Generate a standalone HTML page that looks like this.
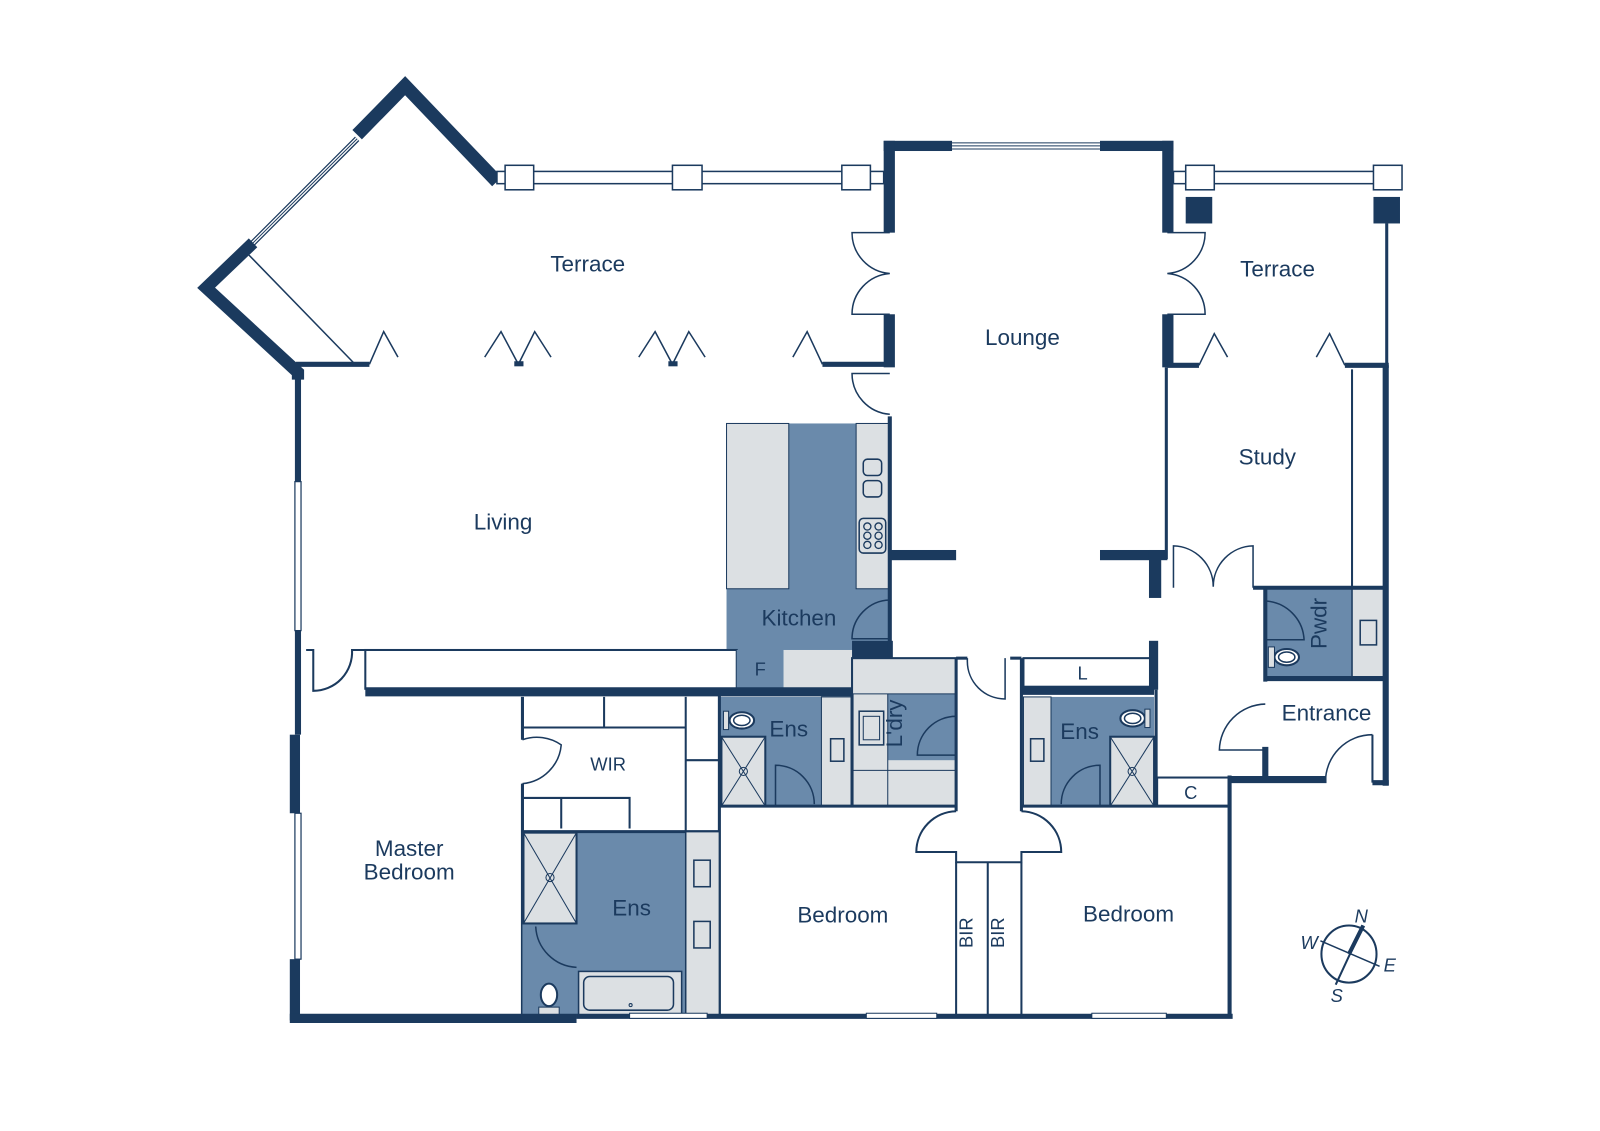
<!DOCTYPE html>
<html><head><meta charset="utf-8"><style>
html,body{margin:0;padding:0;background:#fff}
svg{display:block}
text{font-family:"Liberation Sans",sans-serif;fill:#1b3a5e}
</style></head><body>
<svg width="1600" height="1131" viewBox="0 0 1568 1108.4" xmlns="http://www.w3.org/2000/svg">
<defs>
<g id="wc"><ellipse cx="0" cy="0" rx="12" ry="8" fill="#fff" stroke="#1b3a5e" stroke-width="2"/><ellipse cx="0" cy="0" rx="8" ry="5" fill="none" stroke="#1b3a5e" stroke-width="1.5"/></g>
</defs>
<g fill="none" stroke="#1b3a5e" stroke-linecap="butt">
<rect x="712" y="415" width="160" height="222" fill="#6a8aab" stroke="none"/>
<rect x="712" y="415" width="61" height="162" fill="#dce0e3" stroke="#1b3a5e" stroke-width="1"/>
<rect x="839" y="415" width="33" height="162" fill="#dce0e3" stroke="#1b3a5e" stroke-width="1"/>
<rect x="846" y="450" width="18" height="16" rx="4" stroke-width="1.5"/>
<rect x="846" y="471" width="18" height="16" rx="4" stroke-width="1.5"/>
<rect x="842" y="508" width="26" height="34" rx="4" stroke-width="1.5"/>
<circle cx="850" cy="516" r="3.5" stroke-width="1.3"/><circle cx="861" cy="516" r="3.5" stroke-width="1.3"/>
<circle cx="850" cy="525" r="3.5" stroke-width="1.3"/><circle cx="861" cy="525" r="3.5" stroke-width="1.3"/>
<circle cx="850" cy="534" r="3.5" stroke-width="1.3"/><circle cx="861" cy="534" r="3.5" stroke-width="1.3"/>
<path d="M872 588 A38 38 0 0 0 835 626 L872 626" stroke-width="1.5"/>
<rect x="358" y="637" width="364" height="38" fill="#fff" stroke-width="2"/>
<rect x="722" y="637" width="46" height="38" fill="#6a8aab" stroke="none"/>
<rect x="768" y="637" width="67" height="38" fill="#dce0e3" stroke="none"/>
<rect x="835" y="628" width="40" height="17" fill="#1b3a5e" stroke="none"/>
<line x1="358" y1="678" x2="838" y2="678" stroke-width="9"/>
<path d="M300 637 L307 637 L307 677 A38 38 0 0 0 345 637 L358 637" stroke-width="2"/>
<rect x="705" y="683" width="130" height="107" fill="#6a8aab" stroke="none"/>
<rect x="707" y="722" width="43" height="68" fill="#dce0e3" stroke-width="2"/>
<path d="M707 722 L750 790 M750 722 L707 790" stroke-width="1"/>
<circle cx="728.5" cy="756" r="4" stroke-width="1"/>
<rect x="805" y="683" width="30" height="107" fill="#dce0e3" stroke-width="1"/>
<rect x="814" y="724" width="13" height="22" stroke-width="1.5"/>
<use href="#wc" x="727" y="706"/><rect x="709" y="697" width="5" height="18" fill="#dce0e3" stroke-width="1"/>
<path d="M760 790 L760 750 A38 38 0 0 1 798 788" stroke-width="1.5"/>
<rect x="835" y="645" width="102" height="145" fill="#dce0e3" stroke-width="2"/>
<rect x="870" y="680" width="67" height="65" fill="#6a8aab" stroke="none"/>
<path d="M835 680 L937 680 M870 680 L870 790 M835 755 L937 755" stroke-width="1"/>
<rect x="842" y="697" width="24" height="33" fill="#dce0e3" stroke-width="1.5"/><rect x="846" y="702" width="16" height="23" stroke-width="1"/>
<path d="M937 702 A38 38 0 0 0 899 740 L937 740" stroke-width="1.5"/>
<rect x="1003" y="683" width="128" height="107" fill="#6a8aab" stroke="none"/>
<rect x="1003" y="683" width="27" height="107" fill="#dce0e3" stroke-width="1"/>
<rect x="1010" y="724" width="13" height="22" stroke-width="1.5"/>
<rect x="1088" y="722" width="43" height="68" fill="#dce0e3" stroke-width="2"/>
<path d="M1088 722 L1131 790 M1131 722 L1088 790" stroke-width="1"/>
<circle cx="1109.5" cy="756" r="4" stroke-width="1"/>
<use href="#wc" x="1110" y="704"/><rect x="1122" y="695" width="5" height="18" fill="#dce0e3" stroke-width="1"/>
<path d="M1078 790 L1078 750 A38 38 0 0 0 1040 788" stroke-width="1.5"/>
<rect x="1003" y="645" width="125" height="28" fill="#fff" stroke-width="2"/>
<line x1="1001" y1="677" x2="1131" y2="677" stroke-width="8"/>
<rect x="1134" y="762" width="70" height="28" stroke-width="2"/>
<rect x="1240" y="577" width="85" height="88" fill="#6a8aab" stroke="none"/>
<rect x="1325" y="577" width="33" height="88" fill="#dce0e3" stroke-width="1.5"/>
<rect x="1333" y="608" width="16" height="24" stroke-width="1.5"/>
<path d="M1240 589 A40 40 0 0 1 1278 627 L1240 627" stroke-width="1.5"/>
<use href="#wc" x="1261" y="644"/><rect x="1243" y="634" width="6" height="20" fill="#dce0e3" stroke-width="1"/>
<line x1="1228" y1="576" x2="1358" y2="576" stroke-width="4"/>
<line x1="1240" y1="665" x2="1358" y2="665" stroke-width="5"/>
<line x1="1240" y1="576" x2="1240" y2="668" stroke-width="4"/>
<path d="M1240 690 A46 46 0 0 0 1195 735 L1240 735" stroke-width="1.5"/>
<line x1="1240" y1="732" x2="1240" y2="767" stroke-width="6"/>
<path d="M1345 720 A46 46 0 0 0 1299 767" stroke-width="1.5"/>
<line x1="1345" y1="720" x2="1345" y2="767" stroke-width="2"/>
<line x1="1205" y1="764" x2="1300" y2="764" stroke-width="7"/>
<line x1="1345" y1="767" x2="1361" y2="767" stroke-width="5"/>
<line x1="1358" y1="358" x2="1358" y2="770" stroke-width="6"/>
<line x1="1325" y1="362" x2="1325" y2="576" stroke-width="2"/>
<path d="M1150 576 L1150 535 A40 40 0 0 1 1189 575 A40 40 0 0 1 1228 535 L1228 576" stroke-width="1.5"/>
<line x1="1143" y1="360" x2="1143" y2="548" stroke-width="3"/>
<rect x="872" y="539" width="65" height="10" fill="#1b3a5e" stroke="none"/>
<rect x="1078" y="539" width="66" height="10" fill="#1b3a5e" stroke="none"/>
<rect x="1126" y="539" width="12" height="47" fill="#1b3a5e" stroke="none"/>
<line x1="872" y1="408" x2="872" y2="640" stroke-width="4"/>
<rect x="1126" y="628" width="9" height="48" fill="#1b3a5e" stroke="none"/>
<line x1="1133" y1="676" x2="1133" y2="790" stroke-width="3"/>
<line x1="937" y1="645" x2="937" y2="795" stroke-width="3"/>
<line x1="1001" y1="645" x2="1001" y2="795" stroke-width="3"/>
<line x1="937" y1="645" x2="948" y2="645" stroke-width="3"/>
<line x1="990" y1="645" x2="1001" y2="645" stroke-width="3"/>
<path d="M948 645 L948 648 A37 37 0 0 0 985 685 L985 645" stroke-width="1.5"/>
<path d="M705 790 L937 790 M1001 790 L1205 790" stroke-width="3"/>
<path d="M937 795 A40 40 0 0 0 898 835 L937 835 L937 845 L1001 845 L1001 835 L1040 835 A40 40 0 0 0 1001 795" stroke-width="2"/>
<path d="M937 845 L937 997 M968 845 L968 997 M1001 845 L1001 997" stroke-width="2"/>
<line x1="1205" y1="760" x2="1205" y2="998" stroke-width="4"/>
<line x1="705" y1="680" x2="705" y2="998" stroke-width="3"/>
<line x1="835" y1="680" x2="835" y2="790" stroke-width="3"/>
<path d="M512 683 L512 725 M512 768 L512 998" stroke-width="3"/>
<path d="M512 725 A42 42 0 0 1 550 730 A42 42 0 0 1 512 768" stroke-width="1.5"/>
<path d="M512 713 L672 713 M592 683 L592 713 M672 683 L672 815 M672 745 L705 745 M512 782 L617 782 L617 812 M550 782 L550 812" stroke-width="2"/>
<rect x="512" y="815" width="160" height="182" fill="#6a8aab" stroke="none"/>
<path d="M512 815 L705 815" stroke-width="3"/>
<rect x="672" y="815" width="33" height="182" fill="#dce0e3" stroke-width="1.5"/>
<rect x="680" y="843" width="16" height="26" stroke-width="1.5"/><rect x="680" y="903" width="16" height="26" stroke-width="1.5"/>
<rect x="513" y="816" width="52" height="89" fill="#dce0e3" stroke-width="2"/>
<path d="M513 816 L565 905 M565 816 L513 905" stroke-width="1"/>
<circle cx="539" cy="860" r="4" stroke-width="1"/>
<path d="M525 908 A42 42 0 0 0 565 948" stroke-width="1.5"/>
<rect x="567" y="952" width="101" height="44" fill="#dce0e3" stroke-width="1.5"/>
<rect x="572" y="957" width="88" height="33" rx="6" stroke-width="1.5"/>
<circle cx="618" cy="985" r="1.5" stroke-width="1"/>
<ellipse cx="538" cy="975" rx="8" ry="11" fill="#fff" stroke-width="2"/><rect x="528" y="987" width="20" height="8" fill="#dce0e3" stroke-width="1"/>
<line x1="292" y1="362" x2="292" y2="472" stroke-width="6"/>
<rect x="289" y="472" width="6" height="146" fill="#fff" stroke-width="1.2"/>
<line x1="292" y1="618" x2="292" y2="720" stroke-width="6"/>
<rect x="284" y="720" width="10" height="77" fill="#1b3a5e" stroke="none"/>
<rect x="289" y="797" width="6" height="143" fill="#fff" stroke-width="1.2"/>
<rect x="284" y="940" width="10" height="60" fill="#1b3a5e" stroke="none"/>
<line x1="284" y1="998" x2="565" y2="998" stroke-width="9"/>
<line x1="565" y1="996" x2="1208" y2="996" stroke-width="5"/>
<rect x="617" y="993" width="76" height="5" fill="#fff" stroke-width="1"/>
<rect x="849" y="993" width="69" height="5" fill="#fff" stroke-width="1"/>
<rect x="1070" y="993" width="73" height="5" fill="#fff" stroke-width="1"/>
<polyline points="350,132 397,84 487,178" stroke-width="13" stroke-linejoin="miter"/>
<line x1="350" y1="136" x2="246" y2="240" stroke-width="6"/>
<line x1="350" y1="136" x2="246" y2="240" stroke="#fff" stroke-width="3.5"/>
<line x1="350" y1="136" x2="246" y2="240" stroke-width="1"/>
<polyline points="248,238 202,282 292,365 292,372" stroke-width="12" stroke-linejoin="miter"/>
<line x1="244" y1="250" x2="347" y2="356" stroke-width="1.5"/>
<line x1="290" y1="357" x2="362" y2="357" stroke-width="5"/>
<line x1="806" y1="357" x2="872" y2="357" stroke-width="5"/>
<path d="M362 357 L376 325 L390 350 M475 350 L491 325 L508 357 L524 325 L540 350 M626 350 L642 325 L659 357 L675 325 L691 350 M777 350 L791 325 L806 357" stroke-width="1.5"/>
<rect x="504" y="354" width="9" height="5" fill="#1b3a5e" stroke="none"/><rect x="655" y="354" width="9" height="5" fill="#1b3a5e" stroke="none"/>
<rect x="487" y="168" width="379" height="12" fill="#fff" stroke-width="1.5"/>
<rect x="495" y="162" width="28" height="24" fill="#fff" stroke-width="1.5"/>
<rect x="659" y="162" width="29" height="24" fill="#fff" stroke-width="1.5"/>
<rect x="825" y="162" width="28" height="24" fill="#fff" stroke-width="1.5"/>
<rect x="1150" y="168" width="223" height="12" fill="#fff" stroke-width="1.5"/>
<rect x="1162" y="162" width="28" height="24" fill="#fff" stroke-width="1.5"/>
<rect x="1346" y="162" width="28" height="24" fill="#fff" stroke-width="1.5"/>
<rect x="1162" y="193" width="26" height="26" fill="#1b3a5e" stroke="none"/>
<rect x="1346" y="193" width="26" height="26" fill="#1b3a5e" stroke="none"/>
<line x1="1359" y1="219" x2="1359" y2="360" stroke-width="3"/>
<rect x="866" y="138" width="67" height="10" fill="#1b3a5e" stroke="none"/>
<rect x="1078" y="138" width="72" height="10" fill="#1b3a5e" stroke="none"/>
<path d="M933 140 L1078 140 M933 143 L1078 143 M933 146 L1078 146" stroke-width="1"/>
<rect x="866" y="138" width="11" height="90" fill="#1b3a5e" stroke="none"/>
<rect x="866" y="308" width="11" height="52" fill="#1b3a5e" stroke="none"/>
<rect x="1139" y="138" width="11" height="90" fill="#1b3a5e" stroke="none"/>
<rect x="1139" y="308" width="11" height="52" fill="#1b3a5e" stroke="none"/>
<path d="M872 228 L835 228 A40 40 0 0 0 872 268 A40 40 0 0 0 835 308 L872 308" stroke-width="1.5"/>
<path d="M1144 228 L1181 228 A40 40 0 0 1 1144 268 A40 40 0 0 1 1181 308 L1144 308" stroke-width="1.5"/>
<path d="M872 366 L835 366 A40 40 0 0 0 872 406" stroke-width="1.5"/>
<line x1="1144" y1="358" x2="1175" y2="358" stroke-width="5"/>
<line x1="1318" y1="358" x2="1361" y2="358" stroke-width="5"/>
<path d="M1175 358 L1190 327 L1203 350 M1290 350 L1303 327 L1318 358" stroke-width="1.5"/>
<ellipse cx="1322" cy="935" rx="27" ry="28" stroke-width="2"/>
<line x1="1336" y1="907" x2="1309" y2="965" stroke-width="2"/>
<line x1="1336" y1="907" x2="1322" y2="935" stroke-width="4"/>
<line x1="1294" y1="922" x2="1352" y2="947" stroke-width="1.5"/>
</g>
<g font-size="22">
<text x="576" y="266" text-anchor="middle">Terrace</text>
<text x="1252" y="271" text-anchor="middle">Terrace</text>
<text x="1002" y="338" text-anchor="middle">Lounge</text>
<text x="1242" y="455" text-anchor="middle">Study</text>
<text x="493" y="519" text-anchor="middle">Living</text>
<text x="783" y="613" text-anchor="middle">Kitchen</text>
<text x="1300" y="706" text-anchor="middle">Entrance</text>
<text x="401" y="839" text-anchor="middle">Master</text>
<text x="401" y="862" text-anchor="middle">Bedroom</text>
<text x="619" y="897" text-anchor="middle">Ens</text>
<text x="773" y="722" text-anchor="middle">Ens</text>
<text x="1058" y="724" text-anchor="middle">Ens</text>
<text x="826" y="904" text-anchor="middle">Bedroom</text>
<text x="1106" y="903" text-anchor="middle">Bedroom</text>
<text x="1309" y="620" text-anchor="middle" transform="rotate(-90 1300 620)">Pwdr</text>
<text x="892" y="717" text-anchor="middle" transform="rotate(-90 884 717)">L'dry</text>
</g>
<g font-size="18">
<text x="596" y="755" text-anchor="middle">WIR</text>
<text x="745" y="662" text-anchor="middle">F</text>
<text x="1061" y="666" text-anchor="middle">L</text>
<text x="1167" y="783" text-anchor="middle">C</text>
<text x="959" y="920" text-anchor="middle" transform="rotate(-90 953 920)">BIR</text>
<text x="990" y="920" text-anchor="middle" transform="rotate(-90 984 920)">BIR</text>
<text x="1334" y="904" text-anchor="middle" font-style="italic">N</text>
<text x="1283" y="930" text-anchor="middle" font-style="italic">W</text>
<text x="1362" y="952" text-anchor="middle" font-style="italic">E</text>
<text x="1310" y="982" text-anchor="middle" font-style="italic">S</text>
</g>
</svg>
</body></html>
